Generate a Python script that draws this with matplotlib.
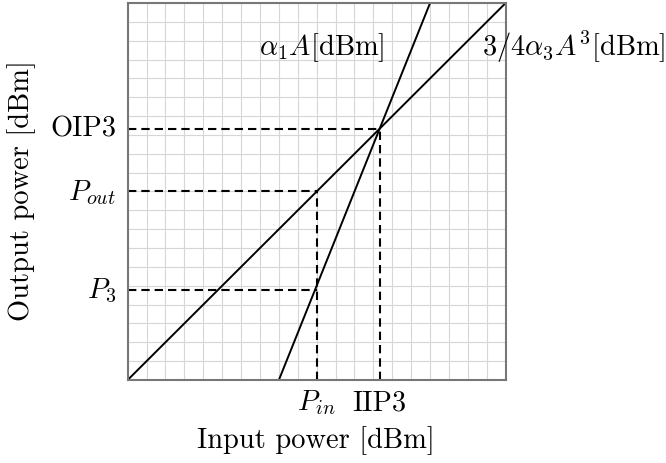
import numpy as np
import matplotlib
matplotlib.use("Agg")
import matplotlib.pyplot as plt

plt.rcParams['mathtext.fontset'] = 'cm'
plt.rcParams['font.family'] = ['cmr10', 'DejaVu Serif']
plt.rcParams['axes.formatter.use_mathtext'] = True

# linear term (slope 1) and third-order term (steep line), in arbitrary dB units
lin_x = [0, 10]
lin_y = [0, 10]
cub_x = [4, 8]
cub_y = [0, 10]

# marked points
p_in = 5.0
p_out = 5.0
p_3 = 2.4
iip3 = 20 / 3
oip3 = 20 / 3

fs = 20.5

fig = plt.figure(figsize=(6.66, 4.64), dpi=100)
ax = fig.add_axes([0.1917, 0.1789, 0.5676, 0.8125])

ax.set_xlim(0, 10)
ax.set_ylim(0, 10)
grid = np.arange(0, 10.01, 0.5)
ax.set_xticks(grid)
ax.set_yticks(grid)
ax.tick_params(length=0, labelbottom=False, labelleft=False)
ax.grid(True, color='#d6d6d6', linewidth=0.8)
ax.set_axisbelow(True)
for s in ax.spines.values():
    s.set_color('#777777')
    s.set_linewidth(1.5)

ax.plot(lin_x, lin_y, color='black', lw=1.4, solid_capstyle='butt')
ax.plot(cub_x, cub_y, color='black', lw=1.4, solid_capstyle='butt')

dash = dict(color='black', lw=1.5, linestyle=(0, (4, 2.4)))
ax.plot([0, iip3], [oip3, oip3], **dash)
ax.plot([iip3, iip3], [0, oip3], **dash)
ax.plot([0, p_in], [p_out, p_out], **dash)
ax.plot([p_in, p_in], [0, p_out], **dash)
ax.plot([0, p_in], [p_3, p_3], **dash)

ax.text(5.13, 8.65, r'$\alpha_1 A$[dBm]', fontsize=fs, ha='center', va='baseline')
ax.text(9.37, 8.62, r'$3/4\alpha_3 A^3$[dBm]', fontsize=fs, ha='left', va='baseline')

xt = ax.get_xaxis_transform()
ax.text(p_in, -0.077, r'$P_{in}$', fontsize=fs, ha='center', va='baseline', transform=xt)
ax.text(iip3, -0.077, 'IIP3', fontsize=fs, ha='center', va='baseline', transform=xt)

yt = ax.get_yaxis_transform()
ax.text(-0.031, oip3, 'OIP3', fontsize=fs, ha='right', va='center', transform=yt)
ax.text(-0.031, p_out, r'$P_{out}$', fontsize=fs, ha='right', va='center', transform=yt)
ax.text(-0.031, p_3, r'$P_3$', fontsize=fs, ha='right', va='center', transform=yt)

ax.text(0.498, -0.178, 'Input power [dBm]', fontsize=fs, ha='center', va='baseline',
        transform=ax.transAxes)
ax.text(-0.28, 0.504, 'Output power [dBm]', fontsize=fs, ha='center', va='center',
        rotation=90, transform=ax.transAxes)

fig.savefig('out.png', dpi=100)
